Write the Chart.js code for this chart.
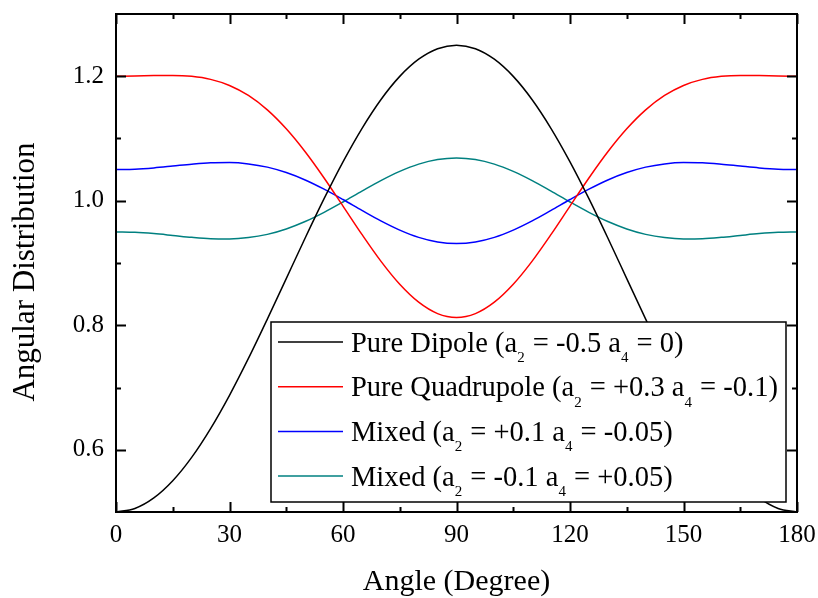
<!DOCTYPE html>
<html>
<head>
<meta charset="utf-8">
<script src="https://cdn.jsdelivr.net/npm/chart.js@4.4.1/dist/chart.umd.min.js"></script>
<style>
  html, body { margin: 0; padding: 0; background: #fff; }
  #chart { display: block; }
</style>
</head>
<body>
<canvas id="chart" width="818" height="598"></canvas>
<script>
// Angle samples (degrees)
const angles = [0, 5, 10, 15, 20, 25, 30, 35, 40, 45, 50, 55, 60, 65, 70, 75, 80, 85, 90,
  95, 100, 105, 110, 115, 120, 125, 130, 135, 140, 145, 150, 155, 160, 165, 170, 175, 180];

const pureDipole = [0.5000, 0.5057, 0.5226, 0.5502, 0.5877, 0.6340, 0.6875, 0.7467, 0.8099, 0.8750,
  0.9401, 1.0033, 1.0625, 1.1160, 1.1623, 1.1998, 1.2274, 1.2443, 1.2500,
  1.2443, 1.2274, 1.1998, 1.1623, 1.1160, 1.0625, 1.0033, 0.9401, 0.8750, 0.8099,
  0.7467, 0.6875, 0.6340, 0.5877, 0.5502, 0.5226, 0.5057, 0.5000];

const pureQuadrupole = [1.2000, 1.2004, 1.2011, 1.2014, 1.1999, 1.1950, 1.1852, 1.1691, 1.1460, 1.1156,
  1.0787, 1.0366, 0.9914, 0.9459, 0.9030, 0.8658, 0.8370, 0.8187, 0.8125,
  0.8187, 0.8370, 0.8658, 0.9030, 0.9459, 0.9914, 1.0366, 1.0787, 1.1156, 1.1460,
  1.1691, 1.1852, 1.1950, 1.1999, 1.2014, 1.2011, 1.2004, 1.2000];

const mixedPos = [1.0500, 1.0507, 1.0528, 1.0557, 1.0587, 1.0609, 1.0613, 1.0592, 1.0540, 1.0453,
  1.0334, 1.0186, 1.0020, 0.9846, 0.9677, 0.9529, 0.9412, 0.9338, 0.9313,
  0.9338, 0.9412, 0.9529, 0.9677, 0.9846, 1.0020, 1.0186, 1.0334, 1.0453, 1.0540,
  1.0592, 1.0613, 1.0609, 1.0587, 1.0557, 1.0528, 1.0507, 1.0500];

const mixedNeg = [0.9500, 0.9493, 0.9472, 0.9443, 0.9413, 0.9391, 0.9387, 0.9408, 0.9460, 0.9547,
  0.9666, 0.9814, 0.9980, 1.0154, 1.0323, 1.0471, 1.0588, 1.0662, 1.0687,
  1.0662, 1.0588, 1.0471, 1.0323, 1.0154, 0.9980, 0.9814, 0.9666, 0.9547, 0.9460,
  0.9408, 0.9387, 0.9391, 0.9413, 0.9443, 0.9472, 0.9493, 0.9500];

// legend text, odd entries are subscripts
const seriesLabels = [
  ['Pure Dipole (a', '2', ' = -0.5 a', '4', ' = 0)'],
  ['Pure Quadrupole (a', '2', ' = +0.3 a', '4', ' = -0.1)'],
  ['Mixed (a', '2', ' = +0.1 a', '4', ' = -0.05)'],
  ['Mixed (a', '2', ' = -0.1 a', '4', ' = +0.05)']
];
const seriesColors = ['#000000', '#ff0000', '#0000ff', '#008080'];

const xTicks = [0, 30, 60, 90, 120, 150, 180];
const xMinorTicks = [15, 45, 75, 105, 135, 165];
const yTicks = [0.6, 0.8, 1.0, 1.2];
const yMinorTicks = [0.7, 0.9, 1.1];

const yTitle = 'Angular Distribution';

const serif = "'Liberation Serif', 'Times New Roman', serif";

const seriesValues = [pureDipole, pureQuadrupole, mixedPos, mixedNeg];
const datasets = seriesValues.map((vals, i) => ({
  label: seriesLabels[i].join(''),
  data: angles.map((a, j) => ({ x: a, y: vals[j] })),
  borderColor: seriesColors[i],
  borderWidth: 1.5,
  pointRadius: 0,
  cubicInterpolationMode: 'monotone',
  fill: false
}));

// box frame with inward major/minor ticks on all four sides
const frameAxes = {
  id: 'frameAxes',
  afterDatasetsDraw(chart, args, opts) {
    const { ctx, chartArea: a, scales: { x, y } } = chart;
    ctx.save();
    ctx.strokeStyle = '#000';
    ctx.lineWidth = opts.lineWidth;
    ctx.beginPath();
    const xt = (v, len) => {
      const px = Math.round(x.getPixelForValue(v)) + 0.5;
      ctx.moveTo(px, a.bottom); ctx.lineTo(px, a.bottom - len);
      ctx.moveTo(px, a.top); ctx.lineTo(px, a.top + len);
    };
    const yt = (v, len) => {
      const py = Math.round(y.getPixelForValue(v)) + 0.5;
      ctx.moveTo(a.left, py); ctx.lineTo(a.left + len, py);
      ctx.moveTo(a.right, py); ctx.lineTo(a.right - len, py);
    };
    xTicks.forEach(v => xt(v, opts.major));
    xMinorTicks.forEach(v => xt(v, opts.minor));
    yTicks.forEach(v => yt(v, opts.major));
    yMinorTicks.forEach(v => yt(v, opts.minor));
    ctx.stroke();
    ctx.strokeRect(a.left, a.top, a.width, a.height);
    ctx.restore();
  }
};

// rotated y title, sitting a little below the plot's middle
const sideTitle = {
  id: 'sideTitle',
  afterDraw(chart, args, opts) {
    const { ctx, chartArea: a } = chart;
    ctx.save();
    ctx.translate(opts.x, (a.top + a.bottom) / 2 + opts.shift);
    ctx.rotate(-Math.PI / 2);
    ctx.font = opts.size + 'px ' + serif;
    ctx.fillStyle = '#000';
    ctx.textAlign = 'center';
    ctx.textBaseline = 'middle';
    ctx.fillText(yTitle, 0, 0);
    ctx.restore();
  }
};

// boxed legend inside the plot, with subscripted coefficients
const boxLegend = {
  id: 'boxLegend',
  afterDraw(chart, args, opts) {
    const { ctx, chartArea: a } = chart;
    const left = a.left + opts.left, top = a.top + opts.top;
    const right = a.right - opts.right, bottom = a.bottom - opts.bottom;
    ctx.save();
    ctx.fillStyle = '#fff';
    ctx.fillRect(left, top, right - left, bottom - top);
    ctx.strokeStyle = '#000';
    ctx.lineWidth = 1.5;
    ctx.strokeRect(left, top, right - left, bottom - top);
    ctx.textBaseline = 'alphabetic';
    ctx.textAlign = 'left';
    seriesLabels.forEach((parts, i) => {
      const ly = top + opts.firstRow + i * opts.rowGap;
      ctx.strokeStyle = seriesColors[i];
      ctx.beginPath();
      ctx.moveTo(left + 7, ly);
      ctx.lineTo(left + 72, ly);
      ctx.stroke();
      ctx.fillStyle = '#000';
      let tx = left + 80;
      parts.forEach((s, k) => {
        const sub = k % 2 === 1;
        ctx.font = (sub ? opts.subSize : opts.size) + 'px ' + serif;
        ctx.fillText(s, tx, ly + (sub ? 20 : 9.5));
        tx += ctx.measureText(s).width + (sub ? 1 : 0);
      });
    });
    ctx.restore();
  }
};

// keep the plot box fixed: no overhang padding from edge tick labels
const noOverhang = s => {
  s.paddingTop = 0; s.paddingBottom = 0; s.paddingLeft = 0; s.paddingRight = 0;
};

new Chart(document.getElementById('chart'), {
  type: 'line',
  data: { datasets: datasets },
  options: {
    responsive: false,
    animation: false,
    layout: { padding: { top: 14, right: 21, left: 0, bottom: 0 } },
    plugins: {
      legend: { display: false },
      tooltip: { enabled: false },
      frameAxes: { lineWidth: 2, major: 10, minor: 5 },
      sideTitle: { x: 26, shift: 9, size: 31 },
      boxLegend: { left: 155, top: 308, right: 11, bottom: 10, firstRow: 20, rowGap: 44.7, size: 28.5, subSize: 15 }
    },
    scales: {
      x: {
        type: 'linear',
        min: 0,
        max: 180,
        afterFit: s => { s.height = 86; noOverhang(s); },
        afterBuildTicks: s => { s.ticks = xTicks.map(v => ({ value: v })); },
        grid: { display: false, drawTicks: false },
        border: { display: false },
        ticks: { color: '#000', font: { family: serif, size: 25 }, padding: 8, maxRotation: 0 },
        title: { display: true, text: 'Angle (Degree)', color: '#000', font: { family: serif, size: 30 }, padding: { top: 0, bottom: -2 } }
      },
      y: {
        type: 'linear',
        min: 0.5,
        max: 1.3,
        afterFit: s => { s.width = 116; noOverhang(s); },
        afterBuildTicks: s => { s.ticks = yTicks.map(v => ({ value: v })); },
        grid: { display: false, drawTicks: false },
        border: { display: false },
        ticks: { color: '#000', font: { family: serif, size: 25 }, padding: 12, callback: v => v.toFixed(1) }
      }
    }
  },
  plugins: [frameAxes, sideTitle, boxLegend]
});
</script>
</body>
</html>
